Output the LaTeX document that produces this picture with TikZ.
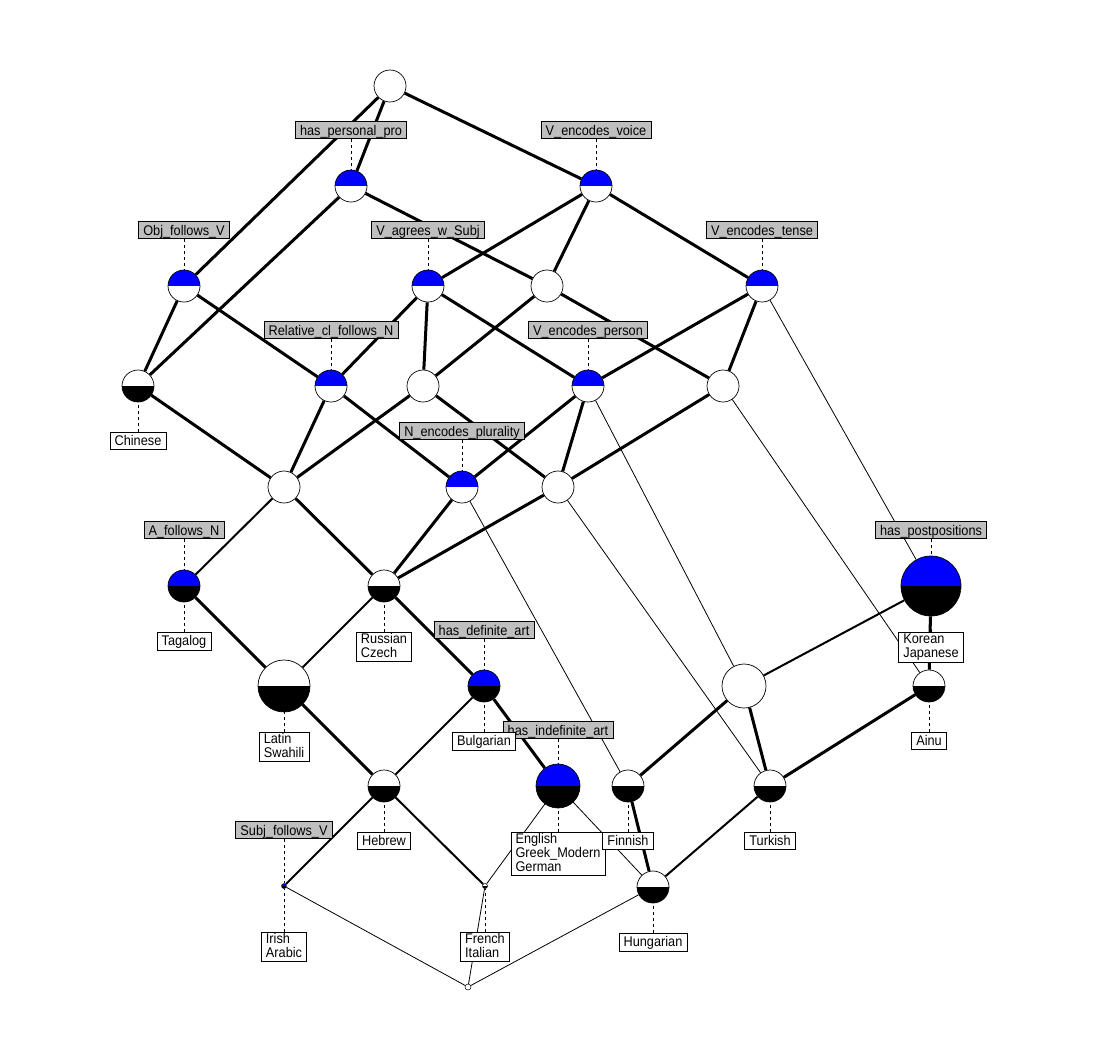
\documentclass[tikz,border=0pt]{standalone}
\usepackage{fontspec}
\setmainfont{Liberation Sans}[FakeStretch=0.91]
\usetikzlibrary{positioning}

\begin{document}
\begin{tikzpicture}[x=1pt,y=-1pt,
  con/.style 2 args={circle, draw, line width=0.7pt, inner sep=0pt, minimum size=32pt,
    path picture={\fill[#1] (path picture bounding box.north west) rectangle (path picture bounding box.east);
      \fill[#2] (path picture bounding box.south west) rectangle (path picture bounding box.east);}},
  att/.style={draw, fill=gray!50, line width=0.6pt, inner xsep=4.7pt, inner ysep=1.5pt,
    font=\fontsize{14}{14}\selectfont, text height=11.8pt, text depth=2.2pt},
  obj/.style={draw, fill=white, line width=0.6pt, inner xsep=4.7pt, inner ysep=1.5pt, align=left,
    font=\fontsize{14}{14}\selectfont, execute at begin node={\rule{0pt}{11.8pt}},
    execute at end node={\rule[-2.2pt]{0pt}{2.2pt}}},
  heavy/.style={line width=3pt},
  middle/.style={line width=2pt},
  light/.style={line width=0.8pt},
  tie/.style={line width=0.6pt, dash pattern=on 3pt off 3pt}]
\useasboundingbox (0,0) rectangle (1099,1058);
\draw (390,86) node (top) [con={white}{white}] {};
\draw (351,186) node (pers) [con={blue}{white}] {};
\draw (596,186) node (voice) [con={blue}{white}] {};
\draw (184,286) node (objv) [con={blue}{white}] {};
\draw (428,286) node (agr) [con={blue}{white}] {};
\draw (547,286) node (m1) [con={white}{white}] {};
\draw (762,286) node (tense) [con={blue}{white}] {};
\draw (138,386) node (chinese) [con={white}{black}] {};
\draw (331,386) node (relcl) [con={blue}{white}] {};
\draw (423,386) node (m2) [con={white}{white}] {};
\draw (588,386) node (person) [con={blue}{white}] {};
\draw (723,386) node (m3) [con={white}{white}] {};
\draw (284,487) node (m4) [con={white}{white}] {};
\draw (462,487) node (plur) [con={blue}{white}] {};
\draw (558,487) node (m5) [con={white}{white}] {};
\draw (184,586) node (tagalog) [con={blue}{black}] {};
\draw (384,586) node (russian) [con={white}{black}] {};
\draw (931,586) node (postp) [con={blue}{black}, minimum size=60pt] {};
\draw (284,686) node (latin) [con={white}{black}, minimum size=52pt] {};
\draw (484,686) node (defart) [con={blue}{black}] {};
\draw (744,686) node (m6) [con={white}{white}, minimum size=44pt] {};
\draw (929,686) node (ainu) [con={white}{black}] {};
\draw (384,786) node (hebrew) [con={white}{black}] {};
\draw (558,786) node (indef) [con={blue}{black}, minimum size=44pt] {};
\draw (628,786) node (finnish) [con={white}{black}] {};
\draw (770,786) node (turkish) [con={white}{black}] {};
\draw (284,886) node (subjv) [con={blue}{black}, minimum size=5pt, line width=0.5pt] {};
\draw (485,886) node (french) [con={white}{black}, minimum size=5pt, line width=0.5pt] {};
\draw (653,887) node (hungarian) [con={white}{black}] {};
\draw (468,987) node (bottom) [con={white}{white}, minimum size=6pt, line width=0.5pt] {};
\draw[heavy] (top) -- (objv);
\draw[heavy] (top) -- (pers);
\draw[heavy] (top) -- (voice);
\draw[heavy] (pers) -- (chinese);
\draw[heavy] (pers) -- (m1);
\draw[heavy] (voice) -- (agr);
\draw[heavy] (voice) -- (m1);
\draw[heavy] (voice) -- (tense);
\draw[heavy] (objv) -- (chinese);
\draw[heavy] (objv) -- (relcl);
\draw[heavy] (agr) -- (relcl);
\draw[heavy] (agr) -- (m2);
\draw[heavy] (agr) -- (person);
\draw[heavy] (m1) -- (m2);
\draw[heavy] (m1) -- (m3);
\draw[heavy] (tense) -- (person);
\draw[heavy] (tense) -- (m3);
\draw[light] (tense) -- (postp);
\draw[heavy] (chinese) -- (m4);
\draw[heavy] (relcl) -- (m4);
\draw[heavy] (relcl) -- (plur);
\draw[heavy] (m2) -- (m4);
\draw[heavy] (m2) -- (m5);
\draw[heavy] (person) -- (plur);
\draw[heavy] (person) -- (m5);
\draw[light] (person) -- (m6);
\draw[heavy] (m3) -- (m5);
\draw[light] (m3) -- (ainu);
\draw[middle] (m4) -- (tagalog);
\draw[heavy] (m4) -- (russian);
\draw[heavy] (plur) -- (russian);
\draw[light] (plur) -- (finnish);
\draw[heavy] (m5) -- (russian);
\draw[light] (m5) -- (turkish);
\draw[heavy] (tagalog) -- (latin);
\draw[middle] (russian) -- (latin);
\draw[heavy] (russian) -- (defart);
\draw[middle] (postp) -- (m6);
\draw[heavy] (postp) -- (ainu);
\draw[heavy] (latin) -- (hebrew);
\draw[middle] (defart) -- (hebrew);
\draw[heavy] (defart) -- (indef);
\draw[heavy] (m6) -- (finnish);
\draw[heavy] (m6) -- (turkish);
\draw[heavy] (ainu) -- (turkish);
\draw[middle] (hebrew) -- (subjv);
\draw[middle] (hebrew) -- (french);
\draw[light] (indef) -- (french);
\draw[light] (indef) -- (hungarian);
\draw[heavy] (finnish) -- (hungarian);
\draw[middle] (turkish) -- (hungarian);
\draw[light] (subjv) -- (bottom);
\draw[light] (french) -- (bottom);
\draw[light] (hungarian) -- (bottom);
\node (lpers) [att, above=47pt of pers.center] {has\_personal\_pro};
\node (lvoice) [att, above=47pt of voice.center] {V\_encodes\_voice};
\node (lobjv) [att, above=47pt of objv.center] {Obj\_follows\_V};
\node (lagr) [att, above=47pt of agr.center] {V\_agrees\_w\_Subj};
\node (ltense) [att, above=47pt of tense.center] {V\_encodes\_tense};
\node (lrelcl) [att, above=47pt of relcl.center] {Relative\_cl\_follows\_N};
\node (lperson) [att, above=47pt of person.center] {V\_encodes\_person};
\node (lplur) [att, above=47pt of plur.center] {N\_encodes\_plurality};
\node (lafoll) [att, above=47pt of tagalog.center] {A\_follows\_N};
\node (lpostp) [att, above=47pt of postp.center] {has\_postpositions};
\node (ldefart) [att, above=47pt of defart.center] {has\_definite\_art};
\node (lindef) [att, above=47pt of indef.center] {has\_indefinite\_art};
\node (lsubjv) [att, above=47pt of subjv.center] {Subj\_follows\_V};
\node (ochinese) [obj, below=46pt of chinese.center] {Chinese};
\node (otagalog) [obj, below=46pt of tagalog.center] {Tagalog};
\node (orussian) [obj, below=46pt of russian.center] {Russian\\Czech};
\node (olatin) [obj, below=46pt of latin.center] {Latin\\Swahili};
\node (odefart) [obj, below=46pt of defart.center] {Bulgarian};
\node (opostp) [obj, below=46pt of postp.center] {Korean\\Japanese};
\node (oainu) [obj, below=46pt of ainu.center] {Ainu};
\node (ohebrew) [obj, below=46pt of hebrew.center] {Hebrew};
\node (oindef) [obj, below=46pt of indef.center] {English\\Greek\_Modern\\German};
\node (ofinnish) [obj, below=46pt of finnish.center] {Finnish};
\node (oturkish) [obj, below=46pt of turkish.center] {Turkish};
\node (osubjv) [obj, below=46pt of subjv.center] {Irish\\Arabic};
\node (ofrench) [obj, below=46pt of french.center] {French\\Italian};
\node (ohungarian) [obj, below=46pt of hungarian.center] {Hungarian};
\draw[tie] (lpers) -- (pers);
\draw[tie] (lvoice) -- (voice);
\draw[tie] (lobjv) -- (objv);
\draw[tie] (lagr) -- (agr);
\draw[tie] (ltense) -- (tense);
\draw[tie] (lrelcl) -- (relcl);
\draw[tie] (lperson) -- (person);
\draw[tie] (lplur) -- (plur);
\draw[tie] (lafoll) -- (tagalog);
\draw[tie] (lpostp) -- (postp);
\draw[tie] (ldefart) -- (defart);
\draw[tie] (lindef) -- (indef);
\draw[tie] (lsubjv) -- (subjv);
\draw[tie] (ochinese) -- (chinese);
\draw[tie] (otagalog) -- (tagalog);
\draw[tie] (orussian) -- (russian);
\draw[tie] (olatin) -- (latin);
\draw[tie] (odefart) -- (defart);
\draw[tie] (opostp) -- (postp);
\draw[tie] (oainu) -- (ainu);
\draw[tie] (ohebrew) -- (hebrew);
\draw[tie] (oindef) -- (indef);
\draw[tie] (ofinnish) -- (finnish);
\draw[tie] (oturkish) -- (turkish);
\draw[tie] (osubjv) -- (subjv);
\draw[tie] (ofrench) -- (french);
\draw[tie] (ohungarian) -- (hungarian);
\end{tikzpicture}
\end{document}
